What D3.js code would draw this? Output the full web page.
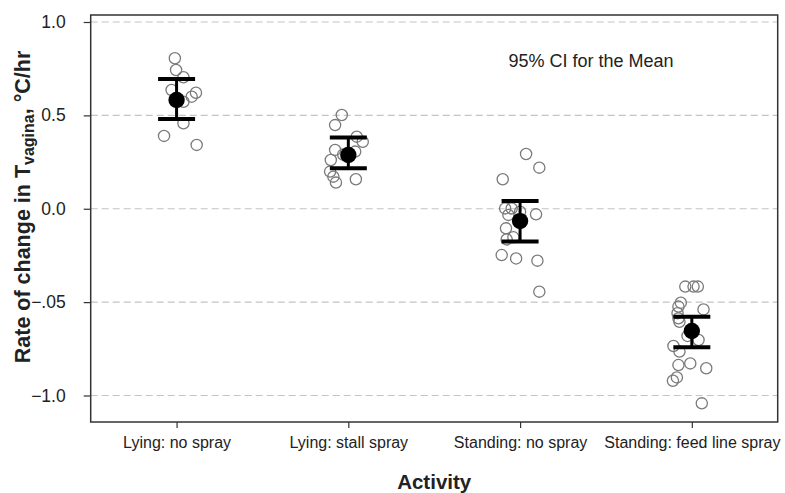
<!DOCTYPE html>
<html><head><meta charset="utf-8">
<script src="https://cdn.jsdelivr.net/npm/d3@7"></script>
<style>
body{margin:0;background:#fff;}
svg{display:block;font-family:"Liberation Sans",Arial,Helvetica,sans-serif;}
</style></head>
<body><svg id="c" width="785" height="493"></svg>
<script>
const categories = ["Lying: no spray","Lying: stall spray","Standing: no spray","Standing: feed line spray"];
const yTickValues = [1.0, 0.5, 0.0, -0.5, -1.0];
const yTickLabels = ["1.0","0.5","0.0","\u2212.05","\u22121.0"];
// individual observations: [value, jitter (fraction of category step)]
const lyingNoSpray = [[0.806,-0.01],[0.743,-0.003],[0.704,0.04],[0.636,-0.029],[0.621,0.113],[0.600,0.088],[0.573,0.04],[0.458,0.04],[0.390,-0.073],[0.342,0.117]];
const lyingStallSpray = [[0.502,-0.038],[0.448,-0.077],[0.386,0.049],[0.359,0.084],[0.315,-0.077],[0.306,0.04],[0.290,-0.03],[0.261,-0.102],[0.199,-0.106],[0.172,-0.087],[0.140,-0.072],[0.158,0.044]];
const standingNoSpray = [[0.293,0.035],[0.220,0.112],[0.158,-0.101],[0.002,-0.087],[0.002,-0.049],[-0.016,0.0],[-0.030,0.093],[-0.033,-0.068],[-0.105,-0.082],[-0.164,-0.078],[-0.153,-0.039],[-0.248,-0.107],[-0.266,-0.023],[-0.278,0.101],[-0.444,0.112]];
const standingFeedLineSpray = [[-0.417,-0.038],[-0.417,0.01],[-0.417,0.035],[-0.503,-0.064],[-0.524,-0.078],[-0.539,0.068],[-0.559,-0.083],[-0.587,-0.078],[-0.605,-0.072],[-0.681,-0.025],[-0.703,0.039],[-0.735,-0.107],[-0.765,-0.072],[-0.828,-0.009],[-0.837,-0.078],[-0.854,0.084],[-0.903,-0.087],[-0.921,-0.11],[-1.042,0.058]];
const means = [0.582, 0.288, -0.066, -0.655];
const ciLow = [0.481, 0.217, -0.176, -0.742];
const ciHigh = [0.695, 0.381, 0.041, -0.578];
const groups = [lyingNoSpray, lyingStallSpray, standingNoSpray, standingFeedLineSpray];

const svg = d3.select("#c");
const L = 90.7, R = 777.7, T = 15, B = 422;
const x = d3.scalePoint().domain(categories).range([L, R]).padding(0.5);
const y = d3.scaleLinear().domain([-1, 1]).range([395.5, 22]);
const step = x.step();

// gridlines
svg.append("g").selectAll("line").data(yTickValues).join("line")
  .attr("x1", L).attr("x2", R).attr("y1", d => y(d)).attr("y2", d => y(d))
  .attr("stroke", "#c4c4c4").attr("stroke-width", 1.2).attr("stroke-dasharray", "7,4");

// frame
svg.append("rect").attr("x", L).attr("y", T).attr("width", R - L).attr("height", B - T)
  .attr("fill", "none").attr("stroke", "#333").attr("stroke-width", 1.5);

// y axis
const yAxis = svg.append("g").attr("transform", `translate(${L},0)`)
  .call(d3.axisLeft(y).tickValues(yTickValues).tickSize(7).tickPadding(18)
    .tickFormat((d, i) => yTickLabels[i]));
yAxis.select(".domain").remove();
yAxis.selectAll(".tick line").attr("stroke", "#333").attr("stroke-width", 1.2);
yAxis.selectAll(".tick text").attr("font-size", 17.5).attr("fill", "#222")
  .attr("font-family", "Liberation Sans, Arial, sans-serif");

// x axis
const xAxis = svg.append("g").attr("transform", `translate(0,${B})`)
  .call(d3.axisBottom(x).tickSize(6).tickPadding(9));
xAxis.select(".domain").remove();
xAxis.selectAll(".tick line").attr("stroke", "#333").attr("stroke-width", 1.2);
xAxis.selectAll(".tick text").attr("font-size", 16).attr("fill", "#222")
  .attr("font-family", "Liberation Sans, Arial, sans-serif");

// points
groups.forEach((g, gi) => {
  svg.append("g").selectAll("circle").data(g).join("circle")
    .attr("cx", d => x(categories[gi]) + d[1] * step)
    .attr("cy", d => y(d[0]))
    .attr("r", 5.6)
    .attr("fill", "none").attr("stroke", "#7a7a7a").attr("stroke-width", 1.3);
});

// CI and means
const ci = svg.append("g");
categories.forEach((c, i) => {
  const cx = x(c);
  ci.append("line").attr("x1", cx).attr("x2", cx).attr("y1", y(ciHigh[i])).attr("y2", y(ciLow[i]))
    .attr("stroke", "#000").attr("stroke-width", 3);
  [ciHigh[i], ciLow[i]].forEach(v => {
    ci.append("line").attr("x1", cx - 18.5).attr("x2", cx + 18.5).attr("y1", y(v)).attr("y2", y(v))
      .attr("stroke", "#000").attr("stroke-width", 4);
  });
  ci.append("circle").attr("cx", cx).attr("cy", y(means[i])).attr("r", 8.2).attr("fill", "#000");
});

// annotation
svg.append("text").attr("x", 591).attr("y", 67).attr("text-anchor", "middle")
  .attr("font-size", 18).attr("fill", "#222").text("95% CI for the Mean");

// axis titles
svg.append("text").attr("x", (L + R) / 2).attr("y", 489).attr("text-anchor", "middle")
  .attr("font-size", 20.5).attr("font-weight", "bold").attr("fill", "#222").text("Activity");

const yt = svg.append("text").attr("transform", "translate(29.5,207) rotate(-90)")
  .attr("text-anchor", "middle").attr("font-size", 21.5).attr("font-weight", "bold").attr("fill", "#222");
yt.append("tspan").text("Rate of change in T");
yt.append("tspan").attr("font-size", 16).attr("dy", 4).text("vagina");
yt.append("tspan").attr("dy", -4).text(", \u00B0C/hr");
</script></body></html>
